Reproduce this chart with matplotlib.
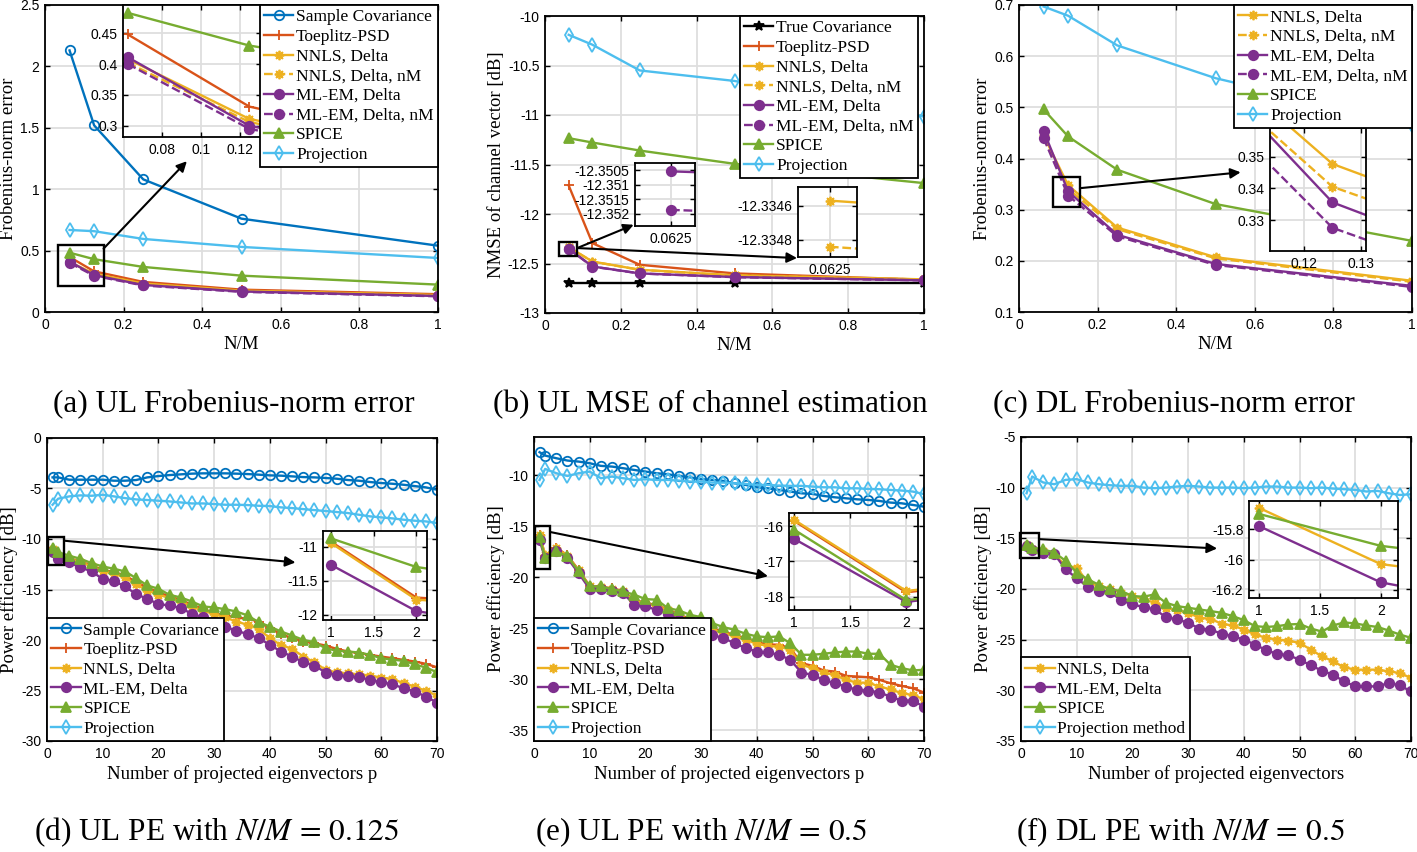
import matplotlib
matplotlib.use('Agg')
import matplotlib.pyplot as plt
from matplotlib.patches import Rectangle
from matplotlib.ticker import FuncFormatter

plt.rcParams['font.family'] = ['Liberation Serif', 'DejaVu Serif']
plt.rcParams['mathtext.fontset'] = 'stix'
plt.rcParams['axes.unicode_minus'] = False

W, H = 1417, 852

# ---------------- data ----------------
nm = [0.0625, 0.125, 0.25, 0.5, 1]

# (a) UL Frobenius-norm error
a_sample = [2.13, 1.52, 1.08, 0.76, 0.54]
a_toeplitz = [0.448, 0.331, 0.245, 0.182, 0.145]
a_nnls = [0.408, 0.311, 0.232, 0.174, 0.138]
a_nnls_nm = [0.402, 0.306, 0.228, 0.171, 0.136]
a_mlem = [0.411, 0.300, 0.220, 0.167, 0.130]
a_mlem_nm = [0.400, 0.295, 0.216, 0.164, 0.128]
a_spice = [0.483, 0.430, 0.367, 0.296, 0.223]
a_proj = [0.668, 0.658, 0.595, 0.530, 0.440]

# (b) UL NMSE of channel estimation
b_true = [-12.70, -12.70, -12.70, -12.70, -12.70]
b_toeplitz = [-11.712, -12.294, -12.513, -12.600, -12.664]
b_nnls = [-12.33457, -12.480, -12.563, -12.620, -12.660]
b_nnls_nm = [-12.33484, -12.481, -12.564, -12.621, -12.661]
b_mlem = [-12.35053, -12.530, -12.600, -12.637, -12.670]
b_mlem_nm = [-12.35187, -12.531, -12.601, -12.638, -12.671]
b_spice = [-11.234, -11.278, -11.359, -11.493, -11.688]
b_proj = [-10.19, -10.29, -10.55, -10.656, -11.016]

# (c) DL Frobenius-norm error
c_nnls = [0.445, 0.3477, 0.265, 0.207, 0.161]
c_nnls_nm = [0.440, 0.3405, 0.262, 0.205, 0.159]
c_mlem = [0.454, 0.3356, 0.251, 0.194, 0.151]
c_mlem_nm = [0.440, 0.3276, 0.248, 0.192, 0.149]
c_spice = [0.496, 0.443, 0.378, 0.311, 0.239]
c_proj = [0.697, 0.679, 0.621, 0.557, 0.466]

# projected eigenvectors p
p = [1, 2] + list(range(4, 71, 2))

# (d) UL PE, N/M = 0.125
d_sample = [-3.90, -3.90, -4.13, -4.13, -4.13, -4.13, -4.23, -4.23, -4.16, -3.90, -3.77, -3.67,
            -3.60, -3.53, -3.50, -3.50, -3.50, -3.53, -3.57, -3.63, -3.70, -3.73, -3.80, -3.87,
            -3.90, -3.96, -4.03, -4.16, -4.23, -4.36, -4.46, -4.53, -4.63, -4.76, -4.89, -5.12]
d_toeplitz = [-10.93, -11.75, -11.90, -12.22, -12.62, -13.05, -13.28, -13.60, -14.27, -14.80, -15.26,
              -15.70, -16.02, -16.52, -16.91, -17.34, -17.57, -17.77, -17.90, -18.17, -18.83, -19.42,
              -19.82, -20.15, -20.32, -20.55, -20.88, -21.14, -21.30, -21.47, -21.64, -21.80, -21.97,
              -22.13, -22.36, -22.70]
d_nnls = [-10.95, -11.78, -11.96, -12.29, -12.72, -13.20, -13.45, -13.80, -14.50, -15.10, -15.50,
          -15.86, -16.20, -16.70, -17.10, -17.44, -17.77, -18.17, -18.50, -18.90, -19.82, -20.50,
          -20.88, -21.64, -22.20, -22.96, -23.20, -23.30, -23.40, -23.52, -23.72, -23.85, -24.28,
          -24.61, -25.04, -25.50]
d_mlem = [-11.27, -11.95, -12.32, -12.82, -13.20, -13.97, -14.14, -14.70, -15.46, -15.92, -16.45,
          -16.58, -16.85, -17.40, -17.77, -18.17, -18.67, -19.10, -19.40, -19.82, -20.48, -21.14,
          -21.64, -22.20, -22.53, -23.22, -23.46, -23.59, -23.69, -23.95, -24.20, -24.38, -24.78,
          -25.10, -25.60, -26.20]
d_spice = [-10.88, -11.30, -11.66, -11.96, -12.39, -12.72, -12.95, -13.21, -13.88, -14.60, -14.93,
           -15.53, -15.79, -16.19, -16.68, -16.78, -16.95, -17.18, -17.57, -18.24, -18.67, -19.16,
           -19.56, -19.99, -20.22, -20.81, -21.07, -21.14, -21.24, -21.47, -21.80, -21.94, -22.07,
           -22.40, -22.73, -23.19]
d_proj = [-6.61, -6.01, -5.78, -5.68, -5.72, -5.62, -5.78, -5.95, -6.08, -6.14, -6.21, -6.28,
          -6.38, -6.48, -6.48, -6.54, -6.61, -6.61, -6.64, -6.71, -6.74, -6.87, -6.94, -7.04,
          -7.14, -7.23, -7.33, -7.43, -7.60, -7.76, -7.86, -7.96, -8.09, -8.19, -8.26, -8.42]

# (e) UL PE, N/M = 0.5
e_sample = [-7.74, -8.07, -8.33, -8.56, -8.66, -8.82, -9.08, -9.15, -9.31, -9.48, -9.64, -9.80,
            -9.90, -10.07, -10.20, -10.39, -10.46, -10.56, -10.79, -10.95, -11.18, -11.28, -11.44,
            -11.60, -11.77, -11.83, -12.03, -12.16, -12.26, -12.36, -12.42, -12.52, -12.68, -12.75,
            -12.91, -13.08]
e_toeplitz = [-15.85, -17.88, -17.10, -17.85, -19.28, -20.85, -20.90, -21.10, -21.33, -22.28, -22.45,
              -22.78, -23.10, -23.68, -24.05, -24.30, -25.00, -25.33, -25.65, -25.98, -26.38, -26.58,
              -26.62, -26.95, -28.42, -28.68, -29.14, -29.24, -29.67, -29.73, -29.80, -30.06, -30.39,
              -30.65, -30.88, -31.30]
e_nnls = [-15.82, -17.84, -17.13, -17.88, -19.33, -20.90, -20.97, -21.16, -21.39, -22.37, -22.53,
          -22.86, -23.19, -23.78, -24.17, -24.43, -25.15, -25.48, -25.80, -26.13, -26.53, -26.72,
          -26.79, -27.12, -28.58, -28.91, -29.34, -29.57, -30.06, -30.33, -30.33, -30.72, -30.98,
          -31.37, -31.54, -31.96]
e_mlem = [-16.36, -18.15, -17.40, -18.12, -19.59, -21.16, -21.16, -21.39, -21.55, -22.70, -22.86,
          -23.19, -23.58, -24.17, -24.50, -24.89, -25.64, -25.97, -26.46, -26.95, -27.28, -27.37,
          -27.60, -28.09, -29.34, -29.57, -30.06, -30.39, -30.72, -31.04, -31.11, -31.30, -31.70,
          -32.09, -32.09, -32.70]
e_spice = [-16.10, -18.10, -17.46, -17.95, -19.43, -20.90, -20.90, -21.16, -21.39, -21.71, -22.14,
           -22.20, -23.02, -23.25, -23.68, -23.91, -24.50, -24.89, -25.15, -25.54, -25.80, -25.87,
           -25.80, -26.46, -27.60, -27.60, -27.50, -27.37, -27.28, -27.28, -27.50, -27.50, -28.58,
           -28.91, -29.13, -29.07]
e_proj = [-10.46, -9.38, -9.80, -10.07, -9.80, -9.64, -10.29, -10.13, -10.29, -10.46, -10.39, -10.46,
          -10.46, -10.52, -10.62, -10.62, -10.72, -10.72, -10.79, -10.85, -10.95, -10.95, -11.01,
          -11.04, -11.04, -11.11, -11.18, -11.18, -11.28, -11.28, -11.34, -11.37, -11.44, -11.50,
          -11.60, -11.85]

# (f) DL PE, N/M = 0.5
f_nnls = [-15.66, -16.03, -16.23, -16.56, -17.72, -17.88, -19.37, -19.70, -20.03, -20.36, -20.69,
          -21.02, -21.35, -21.85, -22.11, -22.34, -22.84, -22.94, -23.43, -23.60, -24.00, -24.49,
          -24.82, -24.99, -25.09, -25.32, -25.98, -26.64, -27.13, -27.73, -27.96, -27.96, -27.96,
          -28.13, -28.29, -28.79]
f_mlem = [-15.78, -16.15, -16.45, -16.56, -18.05, -18.94, -19.80, -20.20, -20.30, -21.12, -21.52,
          -21.78, -22.01, -22.77, -23.00, -23.33, -23.90, -24.00, -24.42, -24.66, -24.99, -25.48,
          -26.04, -26.41, -26.54, -26.97, -27.53, -28.06, -28.46, -29.12, -29.61, -29.61, -29.61,
          -29.28, -29.51, -30.11]
f_spice = [-15.70, -15.91, -16.10, -16.40, -17.22, -18.38, -19.04, -19.60, -20.03, -20.20, -20.70,
           -20.76, -20.53, -21.36, -21.69, -21.85, -22.02, -22.18, -22.35, -22.68, -23.07, -23.67,
           -23.75, -23.67, -23.50, -23.45, -23.90, -24.20, -23.60, -23.30, -23.40, -23.60, -23.75,
           -24.10, -24.50, -24.82]
f_proj = [-10.55, -8.90, -9.49, -9.66, -9.23, -9.16, -9.49, -9.66, -9.76, -9.82, -9.82, -9.99,
          -10.05, -9.99, -9.89, -9.82, -9.89, -9.99, -9.99, -9.99, -10.05, -9.99, -9.89, -9.89,
          -9.99, -9.99, -10.05, -9.99, -10.09, -10.15, -10.22, -10.38, -10.32, -10.55, -10.72, -10.65]

# ---------------- styles ----------------
STY = {
    'sample': dict(color='#0072BD', marker='o', mfc='none'),
    'true': dict(color='k', marker='*', ms=7.5),
    'toeplitz': dict(color='#D95319', marker='+'),
    'nnls': dict(color='#EDB120', marker=(8, 2, 0)),
    'nnls_nm': dict(color='#EDB120', marker=(8, 2, 0), ls='--'),
    'mlem': dict(color='#7E2F8E', marker='o'),
    'mlem_nm': dict(color='#7E2F8E', marker='o', ls='--'),
    'spice': dict(color='#77AC30', marker='^'),
    'proj': dict(color='#4DBEEE', marker='d', mfc='none'),
}

fmt = FuncFormatter(lambda v, pos: f'{v:g}')


def draw(ax, x, series):
    hs = []
    for key, y, label in series:
        st = dict(STY[key])
        ms = st.pop('ms', 6.8)
        h, = ax.plot(x, y, lw=1.7, ms=ms, mew=1.3, label=label, **st)
        hs.append(h)
    return hs


def style(ax, xlim, ylim, xticks, yticks):
    ax.set_xlim(xlim)
    ax.set_ylim(ylim)
    ax.set_xticks(xticks)
    ax.set_yticks(yticks)
    ax.xaxis.set_major_formatter(fmt)
    ax.yaxis.set_major_formatter(fmt)
    ax.tick_params(direction='in', top=True, right=True, length=3.5, width=1.0,
                   labelsize=10, pad=4, labelfontfamily='Liberation Sans')
    ax.grid(True, color='#dedede', lw=1.3)
    ax.set_axisbelow(True)
    for s in ax.spines.values():
        s.set_linewidth(1.3)


def box(x0, y0, x1, y1):
    return [x0 / W, 1 - y1 / H, (x1 - x0) / W, (y1 - y0) / H]


def zoom_mark(ax, rect, start, ends):
    ax.add_patch(Rectangle((rect[0], rect[2]), rect[1] - rect[0], rect[3] - rect[2],
                           fill=False, ec='k', lw=1.7, zorder=5, clip_on=False))
    for end in ends:
        ax.annotate('', xy=end, xytext=start,
                    arrowprops=dict(arrowstyle='-|>', color='k', lw=1.5,
                                    mutation_scale=15, shrinkA=0, shrinkB=0), zorder=6)


LEG = dict(fontsize=12.5, frameon=True, fancybox=False, edgecolor='k', framealpha=1,
           borderpad=0.25, labelspacing=0.2, handlelength=1.7, handletextpad=0.15,
           borderaxespad=0)


def legend(obj, hs, ax, loc, anchor):
    if obj is fig:
        lg = fig.legend(handles=hs, loc=loc, bbox_to_anchor=anchor,
                        bbox_transform=ax.transAxes, **LEG)
    else:
        lg = ax.legend(handles=hs, loc=loc, bbox_to_anchor=anchor, **LEG)
    lg.get_frame().set_linewidth(1.3)
    return lg


fig = plt.figure(figsize=(W / 100, H / 100), dpi=100)

# ---------- (a) ----------
sa = [('sample', a_sample, 'Sample Covariance'), ('toeplitz', a_toeplitz, 'Toeplitz-PSD'),
      ('nnls', a_nnls, 'NNLS, Delta'), ('nnls_nm', a_nnls_nm, 'NNLS, Delta, nM'),
      ('mlem', a_mlem, 'ML-EM, Delta'), ('mlem_nm', a_mlem_nm, 'ML-EM, Delta, nM'),
      ('spice', a_spice, 'SPICE'), ('proj', a_proj, 'Projection')]
ax = fig.add_axes(box(45, 5, 438, 312))
hs = draw(ax, nm, sa)
style(ax, (0, 1), (0, 2.5), [0, 0.2, 0.4, 0.6, 0.8, 1], [0, 0.5, 1, 1.5, 2, 2.5])
ax.set_xlabel('N/M', fontsize=13.5, labelpad=3)
ax.set_ylabel('Frobenius-norm error', fontsize=13.5, labelpad=2)
zoom_mark(ax, (0.034, 0.149, 0.212, 0.543), (0.149, 0.516), [(0.361, 1.228)])
ia = fig.add_axes(box(123, 5, 261, 137))
draw(ia, nm, sa)
style(ia, (0.06, 0.131), (0.2817, 0.4958), [0.08, 0.1, 0.12], [0.3, 0.35, 0.4, 0.45])
legend(fig, hs, ax, 'upper right', (1, 1))

# ---------- (b) ----------
sb = [('true', b_true, 'True Covariance'), ('toeplitz', b_toeplitz, 'Toeplitz-PSD'),
      ('nnls', b_nnls, 'NNLS, Delta'), ('nnls_nm', b_nnls_nm, 'NNLS, Delta, nM'),
      ('mlem', b_mlem, 'ML-EM, Delta'), ('mlem_nm', b_mlem_nm, 'ML-EM, Delta, nM'),
      ('spice', b_spice, 'SPICE'), ('proj', b_proj, 'Projection')]
ax = fig.add_axes(box(545, 16, 924, 313))
hs = draw(ax, nm, sb)
style(ax, (0, 1), (-13, -10), [0, 0.2, 0.4, 0.6, 0.8, 1], [-13, -12.5, -12, -11.5, -11, -10.5, -10])
ax.set_xlabel('N/M', fontsize=13.5, labelpad=3)
ax.set_ylabel('NMSE of channel vector [dB]', fontsize=13.5, labelpad=2)
zoom_mark(ax, (0.037, 0.085, -12.429, -12.284), (0.085, -12.344),
          [(0.234, -12.109), (0.665, -12.445)])
legend(ax, hs, ax, 'upper right', (1 - 6 / 379, 1))
ib1 = fig.add_axes(box(635, 163, 695, 226))
draw(ib1, nm, sb)
style(ib1, (0.062485, 0.06251), (-12.35243, -12.35024), [0.0625],
      [-12.352, -12.3515, -12.351, -12.3505])
ib2 = fig.add_axes(box(798, 187, 857, 257))
draw(ib2, nm, sb)
style(ib2, (0.0624946, 0.0625046), (-12.3349, -12.33449), [0.0625], [-12.3348, -12.3346])

# ---------- (c) ----------
sc = [('nnls', c_nnls, 'NNLS, Delta'), ('nnls_nm', c_nnls_nm, 'NNLS, Delta, nM'),
      ('mlem', c_mlem, 'ML-EM, Delta'), ('mlem_nm', c_mlem_nm, 'ML-EM, Delta, nM'),
      ('spice', c_spice, 'SPICE'), ('proj', c_proj, 'Projection')]
ax = fig.add_axes(box(1019, 5, 1412, 312))
hs = draw(ax, nm, sc)
style(ax, (0, 1), (0.1, 0.7), [0, 0.2, 0.4, 0.6, 0.8, 1], [0.1, 0.2, 0.3, 0.4, 0.5, 0.6, 0.7])
ax.set_xlabel('N/M', fontsize=13.5, labelpad=3)
ax.set_ylabel('Frobenius-norm error', fontsize=13.5, labelpad=2)
zoom_mark(ax, (0.086, 0.155, 0.306, 0.364), (0.155, 0.342), [(0.564, 0.373)])
ic = fig.add_axes(box(1270, 128, 1366, 251))
draw(ic, nm, sc)
style(ic, (0.114, 0.1309), (0.3203, 0.359), [0.12, 0.13], [0.33, 0.34, 0.35])
legend(fig, hs, ax, 'upper right', (1, 1))

# ---------- (d) ----------
sd = [('sample', d_sample, 'Sample Covariance'), ('toeplitz', d_toeplitz, 'Toeplitz-PSD'),
      ('nnls', d_nnls, 'NNLS, Delta'), ('mlem', d_mlem, 'ML-EM, Delta'),
      ('spice', d_spice, 'SPICE'), ('proj', d_proj, 'Projection')]
ax = fig.add_axes(box(47, 438, 437, 741))
hs = draw(ax, p, sd)
style(ax, (0, 70), (-30, 0), range(0, 71, 10), range(-30, 1, 5))
ax.set_xlabel('Number of projected eigenvectors p', fontsize=13.5, labelpad=3)
ax.set_ylabel('Power efficiency [dB]', fontsize=13.5, labelpad=2)
zoom_mark(ax, (0.18, 3.1, -12.62, -9.84), (3.1, -10.17), [(44.6, -12.32)])
legend(ax, hs, ax, 'lower left', (0, 0))
idd = fig.add_axes(box(323, 531, 427, 620))
draw(idd, p, sd)
style(idd, (0.903, 2.125), (-12.08, -10.77), [1, 1.5, 2], [-12, -11.5, -11])

# ---------- (e) ----------
se = [('sample', e_sample, 'Sample Covariance'), ('toeplitz', e_toeplitz, 'Toeplitz-PSD'),
      ('nnls', e_nnls, 'NNLS, Delta'), ('mlem', e_mlem, 'ML-EM, Delta'),
      ('spice', e_spice, 'SPICE'), ('proj', e_proj, 'Projection')]
ax = fig.add_axes(box(534, 437, 924, 741))
hs = draw(ax, p, se)
style(ax, (0, 70), (-36.05, -6.25), range(0, 71, 10), range(-35, -9, 5))
ax.set_xlabel('Number of projected eigenvectors p', fontsize=13.5, labelpad=3)
ax.set_ylabel('Power efficiency [dB]', fontsize=13.5, labelpad=2)
zoom_mark(ax, (0.18, 2.88, -19.16, -15.0), (2.88, -15.56), [(42.0, -19.9)])
legend(ax, hs, ax, 'lower left', (0, 0))
ie = fig.add_axes(box(789, 513, 918, 610))
draw(ie, p, se)
style(ie, (0.956, 2.104), (-18.38, -15.63), [1, 1.5, 2], [-18, -17, -16])

# ---------- (f) ----------
sf = [('nnls', f_nnls, 'NNLS, Delta'), ('mlem', f_mlem, 'ML-EM, Delta'),
      ('spice', f_spice, 'SPICE'), ('proj', f_proj, 'Projection method')]
ax = fig.add_axes(box(1021, 437, 1411, 741))
hs = draw(ax, p, sf)
style(ax, (0, 70), (-35, -5), range(0, 71, 10), range(-35, -4, 5))
ax.set_xlabel('Number of projected eigenvectors', fontsize=13.5, labelpad=3)
ax.set_ylabel('Power efficiency [dB]', fontsize=13.5, labelpad=2)
zoom_mark(ax, (-0.24, 3.3, -16.99, -14.51), (3.3, -15.08), [(35.2, -16.0)])
legend(ax, hs, ax, 'lower left', (0, 0))
iff = fig.add_axes(box(1249, 501, 1398, 598))
draw(iff, p, sf)
style(iff, (0.918, 2.142), (-16.253, -15.615), [1, 1.5, 2], [-16.2, -16, -15.8])

# ---------- captions ----------
cap = dict(fontsize=22.5, ha='center', va='center')
fig.text(234 / W, 1 - 405 / H, '(a) UL Frobenius-norm error', **cap)
fig.text(710 / W, 1 - 405 / H, '(b) UL MSE of channel estimation', **cap)
fig.text(1174 / W, 1 - 405 / H, '(c) DL Frobenius-norm error', **cap)
fig.text(217 / W, 1 - 832 / H, r'(d) UL PE with $N/M\,=\,0.125$', **cap)
fig.text(701 / W, 1 - 832 / H, r'(e) UL PE with $N/M\,=\,0.5$', **cap)
fig.text(1180 / W, 1 - 832 / H, r'(f) DL PE with $N/M\,=\,0.5$', **cap)

fig.savefig('out.png', dpi=100)
